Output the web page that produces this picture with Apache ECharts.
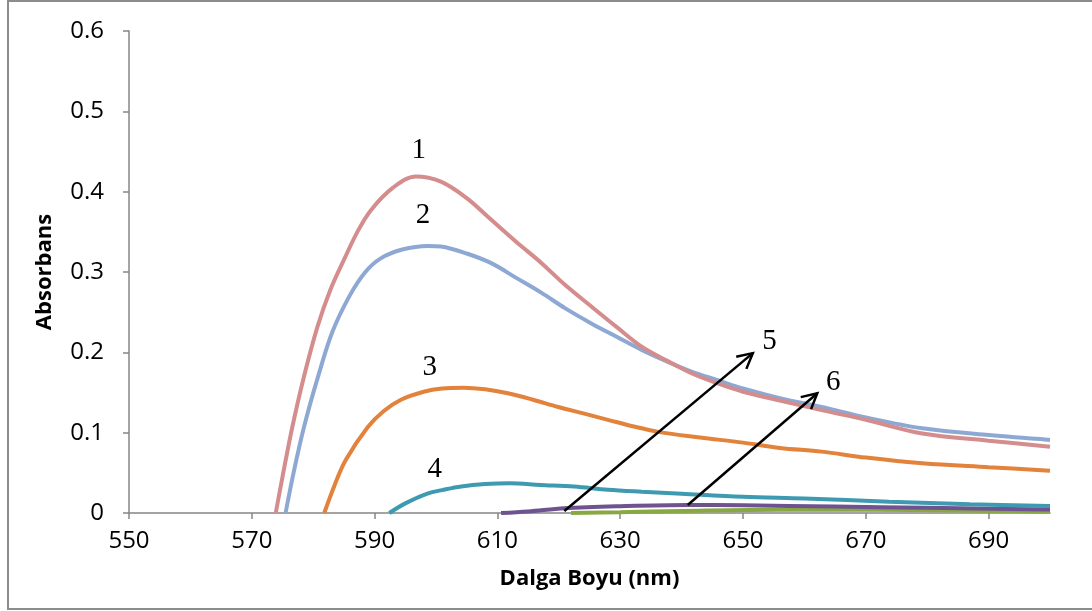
<!DOCTYPE html>
<html>
<head>
<meta charset="utf-8">
<script src="https://cdn.jsdelivr.net/npm/echarts@6/dist/echarts.min.js"></script>
<style>
  html, body { margin: 0; padding: 0; background: #ffffff; }
  #chart { width: 1092px; height: 611px; }
</style>
</head>
<body>
<div id="chart"></div>
<script>
// Wavelength axis ticks (nm) and absorbance ticks
const xTicks = [550, 570, 590, 610, 630, 650, 670, 690];
const yTicks = [0, 0.1, 0.2, 0.3, 0.4, 0.5, 0.6];

// Absorption spectra: [wavelength (nm), absorbance]
const curve1 = [[573.9,0],[575,0.045],[576.6,0.107],[578.5,0.17],[580.7,0.232],[582.8,0.278],[585,0.315],[587.2,0.35],[589.4,0.377],[593,0.405],[596.7,0.419],[600.8,0.4125],[605,0.392],[609,0.365],[613,0.338],[617.2,0.311],[621,0.284],[625.3,0.257],[629.5,0.231],[633.5,0.207],[637.5,0.19],[641.6,0.174],[646,0.161],[650,0.151],[656,0.14],[662.8,0.128],[670,0.116],[679.2,0.099],[690,0.09],[700,0.0826]];
const curve2 = [[575.5,0],[576.8,0.05],[578.5,0.107],[580.8,0.17],[583.1,0.225],[585.9,0.27],[588.5,0.3],[591,0.317],[594.5,0.328],[598.7,0.3325],[600.8,0.3317],[605,0.323],[609,0.311],[613,0.293],[617.2,0.274],[621,0.255],[625.3,0.236],[629.5,0.219],[633.5,0.203],[637.5,0.189],[641.6,0.176],[646,0.165],[650,0.155],[656,0.143],[662.8,0.132],[670,0.119],[679.2,0.1055],[690,0.097],[700,0.091]];
const curve3 = [[581.8,0],[583.5,0.035],[585.3,0.066],[588.9,0.107],[591.5,0.127],[594.3,0.141],[598,0.151],[601,0.155],[604.5,0.156],[608,0.154],[611.7,0.149],[615.8,0.141],[619.9,0.132],[624,0.124],[628,0.116],[632,0.108],[636.2,0.101],[643,0.094],[650,0.0876],[656,0.081],[662.8,0.0764],[670,0.069],[679.2,0.0619],[690,0.057],[700,0.0527]];
const curve4 = [[592.4,0],[595,0.012],[598.7,0.0245],[601,0.0285],[604.1,0.033],[608,0.036],[612,0.037],[617,0.035],[622.5,0.033],[628,0.029],[633.5,0.0265],[640,0.024],[650,0.0203],[660,0.018],[673.8,0.0141],[687,0.011],[700,0.0087]];
const curve5 = [[610.6,0],[615,0.002],[620.9,0.006],[630,0.0085],[641,0.010],[650,0.0095],[665,0.008],[680,0.0065],[700,0.0045]];
const curve6 = [[622,0],[630,0.001],[640,0.0025],[656,0.004],[670,0.004],[685,0.003],[700,0.002]];

const curveNames = ['1', '2', '3', '4', '5', '6'];
const curves = [curve1, curve2, curve3, curve4, curve5, curve6];
const curveColors = ['#D48C8C', '#8DA8D3', '#E3823A', '#3E9AB0', '#6E5390', '#88A843'];

// Curve numbers, anchored in data space
const numberLabels = [
  { text: '1', at: [597.2, 0.451] },
  { text: '2', at: [597.9, 0.370] },
  { text: '3', at: [599.0, 0.181] },
  { text: '4', at: [599.8, 0.054] },
  { text: '5', at: [654.3, 0.213] },
  { text: '6', at: [664.7, 0.163] }
];
// Arrows pointing from the flat curves to their numbers
const arrows = [
  { from: [620.9, 0.0025], to: [651.6, 0.199] },
  { from: [641.0, 0.010], to: [662.1, 0.149] }
];

const chart = echarts.init(document.getElementById('chart'), null, { renderer: 'canvas' });
const axisGray = '#868686';
const tickFont = '"Open Sans", sans-serif';

// draw order: later series on top
const drawOrder = [5, 4, 3, 2, 1, 0];

const option = {
  backgroundColor: '#ffffff',
  animation: false,
  grid: { left: 129, right: 42, top: 31, bottom: 98, containLabel: false },
  xAxis: {
    type: 'value',
    min: 550, max: 700,
    name: 'Dalga Boyu (nm)',
    nameLocation: 'middle',
    nameGap: 55,
    nameTextStyle: { fontFamily: tickFont, fontWeight: 'bold', fontSize: 22, color: '#000' },
    axisLine: { lineStyle: { color: axisGray, width: 1.5 } },
    axisTick: { show: true, length: 6, customValues: xTicks, lineStyle: { color: axisGray, width: 1.5 } },
    axisLabel: { customValues: xTicks, margin: 16, fontFamily: tickFont, fontSize: 24, color: '#000' },
    splitLine: { show: false }
  },
  yAxis: {
    type: 'value',
    min: 0, max: 0.6, interval: 0.1,
    name: 'Absorbans',
    nameLocation: 'middle',
    nameRotate: 90,
    nameGap: 73,
    nameTextStyle: { fontFamily: tickFont, fontWeight: 'bold', fontSize: 22, color: '#000' },
    axisLine: { show: true, lineStyle: { color: axisGray, width: 1.5 } },
    axisTick: { show: true, length: 6, lineStyle: { color: axisGray, width: 1.5 } },
    axisLabel: { margin: 25, fontFamily: tickFont, fontSize: 24, color: '#000',
      formatter: v => String(Math.round(v * 10) / 10) },
    splitLine: { show: false }
  },
  series: drawOrder.map(i => ({
    name: curveNames[i],
    type: 'line',
    data: curves[i],
    smooth: 0.35,
    showSymbol: false,
    clip: true,
    lineStyle: { color: curveColors[i], width: 4 },
    itemStyle: { color: curveColors[i] },
    z: 2 + (5 - i)
  }))
};
chart.setOption(option);

// Annotations placed through the axis scales
function annotate() {
  const px = p => chart.convertToPixel({ gridIndex: 0 }, p);
  const els = [];
  // outer frame
  els.push({
    type: 'rect', silent: true, z: 0,
    shape: { x: 8, y: 1, width: 1200, height: 608 },
    style: { fill: 'none', stroke: '#8c8c8c', lineWidth: 2 }
  });
  numberLabels.forEach(l => {
    const p = px(l.at);
    els.push({
      type: 'text', x: p[0], y: p[1], z: 20, silent: true,
      style: { text: l.text, fill: '#000', font: '29px "Liberation Serif", "Times New Roman", serif',
        align: 'center', verticalAlign: 'middle' }
    });
  });
  arrows.forEach(a => {
    const p0 = px(a.from), p1 = px(a.to);
    const ang = Math.atan2(p1[1] - p0[1], p1[0] - p0[0]);
    const len = 17, spread = Math.PI / 6.5;
    const l = [p1[0] - len * Math.cos(ang - spread), p1[1] - len * Math.sin(ang - spread)];
    const r = [p1[0] - len * Math.cos(ang + spread), p1[1] - len * Math.sin(ang + spread)];
    els.push({
      type: 'line', z: 20, silent: true,
      shape: { x1: p0[0], y1: p0[1], x2: p1[0], y2: p1[1] },
      style: { stroke: '#000', lineWidth: 2.5 }
    });
    els.push({
      type: 'polyline', z: 20, silent: true,
      shape: { points: [l, p1, r] },
      style: { stroke: '#000', lineWidth: 2.5, fill: 'none', lineJoin: 'miter' }
    });
  });
  chart.setOption({ graphic: { elements: els } });
}
annotate();
</script>
</body>
</html>
